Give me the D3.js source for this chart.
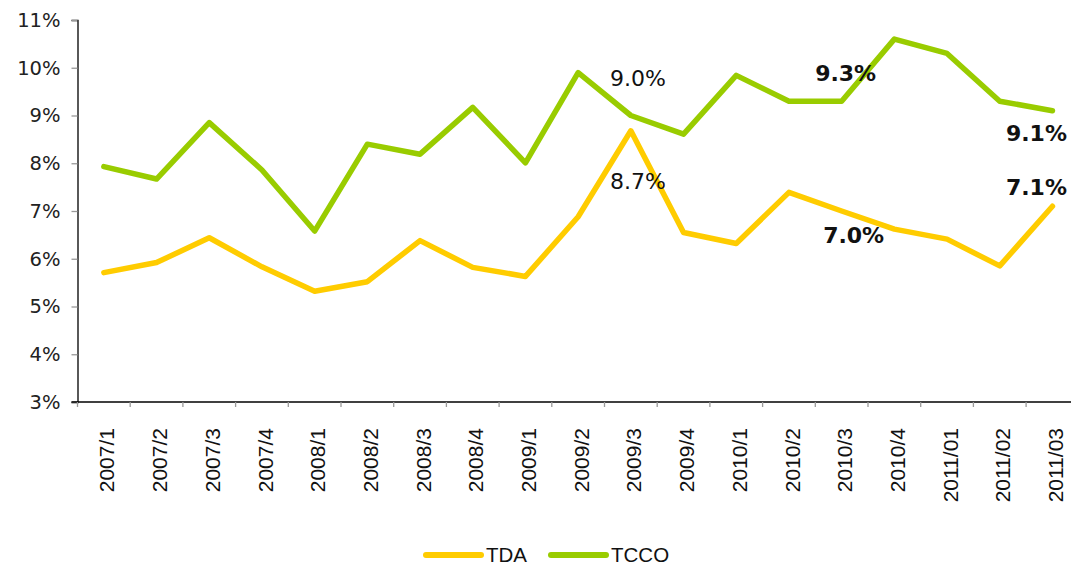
<!DOCTYPE html>
<html>
<head>
<meta charset="utf-8">
<script src="https://cdn.jsdelivr.net/npm/d3@7"></script>
<style>
  body { margin: 0; background: #fff; }
  svg { display: block; }
</style>
</head>
<body>
<div id="chart"></div>
<script>
// chart data
const periods = ["2007/1", "2007/2", "2007/3", "2007/4", "2008/1", "2008/2", "2008/3", "2008/4",
  "2009/1", "2009/2", "2009/3", "2009/4", "2010/1", "2010/2", "2010/3", "2010/4",
  "2011/01", "2011/02", "2011/03"];
const tda = [5.71, 5.92, 6.44, 5.83, 5.32, 5.52, 6.38, 5.82, 5.63, 6.88, 8.68, 6.55, 6.32, 7.39, 7.0, 6.62, 6.41, 5.85, 7.1];
const tcco = [7.93, 7.67, 8.85, 7.86, 6.58, 8.4, 8.19, 9.17, 8.01, 9.9, 9.0, 8.61, 9.84, 9.3, 9.3, 10.6, 10.3, 9.3, 9.1];
const yTicks = [3, 4, 5, 6, 7, 8, 9, 10, 11];
const seriesNames = ["TDA", "TCCO"];
const seriesColors = ["#ffcc00", "#99cc00"];
// data labels: [series index, period index, text, bold]
const pointLabels = [
  [1, 10, "9.0%", false],
  [0, 10, "8.7%", false],
  [1, 14, "9.3%", true],
  [0, 14, "7.0%", true],
  [1, 18, "9.1%", true],
  [0, 18, "7.1%", true]
];

const W = 1071, H = 568;
const margin = { top: 20, left: 77.5 };
const plotH = 382;
const band = 52.7;

const svg = d3.select("#chart").append("svg")
  .attr("width", W).attr("height", H);

const x = d3.scaleBand()
  .domain(periods)
  .range([margin.left, margin.left + band * periods.length])
  .padding(0);

const y = d3.scaleLinear()
  .domain([3, 11])
  .range([margin.top + plotH, margin.top]);

const cx = d => x(d) + x.bandwidth() / 2;

// y axis
const yAxis = svg.append("g")
  .attr("transform", "translate(" + margin.left + ",0)")
  .call(d3.axisLeft(y).tickValues(yTicks).tickFormat(d => d + "%").tickSize(6).tickPadding(11));
yAxis.select(".domain").attr("stroke", "#000").attr("stroke-width", 1.3);
yAxis.selectAll(".tick line").attr("stroke", "#999").attr("stroke-width", 1.3);
yAxis.selectAll(".tick text")
  .attr("fill", "#222")
  .style("font-family", "'DejaVu Sans', Verdana, sans-serif")
  .style("font-size", "19.5px");

// x axis line
const xAxis = svg.append("g");
xAxis.append("line")
  .attr("x1", x.range()[0] - 6).attr("x2", x.range()[1])
  .attr("y1", y(3)).attr("y2", y(3))
  .attr("stroke", "#000").attr("stroke-width", 1.3);
xAxis.selectAll(".xtick")
  .data(periods)
  .enter().append("line")
  .attr("x1", d => x(d)).attr("x2", d => x(d))
  .attr("y1", y(3)).attr("y2", y(3) + 5)
  .attr("stroke", "#999").attr("stroke-width", 1.3);
xAxis.selectAll(".xlabel")
  .data(periods)
  .enter().append("text")
  .attr("transform", d => "translate(" + cx(d) + "," + (y(3) + 26) + ") rotate(-90)")
  .attr("text-anchor", "end")
  .attr("y", 3)
  .attr("dy", "0.36em")
  .attr("fill", "#111")
  .style("font-family", "'Liberation Sans', Arial, sans-serif")
  .style("font-size", "21px")
  .text(d => d);

// lines
const line = d3.line()
  .x((d, i) => cx(periods[i]))
  .y(d => y(d));

[tda, tcco].forEach((vals, k) => {
  svg.append("path")
    .datum(vals)
    .attr("d", line)
    .attr("fill", "none")
    .attr("stroke", seriesColors[k])
    .attr("stroke-width", 5.5)
    .attr("stroke-linejoin", "round")
    .attr("stroke-linecap", "round");
});

// data labels
const series = [tda, tcco];
const labelOffsets = {
  "9.0%": [7, -30], "8.7%": [7, 58], "9.3%": [4, -20],
  "7.0%": [12, 32], "9.1%": [-16, 30], "7.1%": [-16, -11]
};
svg.selectAll(".plabel")
  .data(pointLabels)
  .enter().append("text")
  .attr("x", d => cx(periods[d[1]]) + labelOffsets[d[2]][0])
  .attr("y", d => y(series[d[0]][d[1]]) + labelOffsets[d[2]][1])
  .attr("text-anchor", "middle")
  .attr("fill", "#111")
  .style("font-family", "'DejaVu Sans', Verdana, sans-serif")
  .style("font-size", "22px")
  .style("font-weight", d => d[3] ? "bold" : "normal")
  .text(d => d[2]);

// legend
const legend = svg.append("g").attr("transform", "translate(426,555)");
const legendX = [0, 125];
seriesNames.forEach((name, k) => {
  const g = legend.append("g").attr("transform", "translate(" + legendX[k] + ",0)");
  g.append("line")
    .attr("x1", 0).attr("x2", 55)
    .attr("stroke", seriesColors[k])
    .attr("stroke-width", 6)
    .attr("stroke-linecap", "round");
  g.append("text")
    .attr("x", 60)
    .attr("dy", "0.36em")
    .attr("fill", "#111")
    .style("font-family", "'Liberation Sans', Arial, sans-serif")
    .style("font-size", "20.5px")
    .text(name);
});
</script>
</body>
</html>
